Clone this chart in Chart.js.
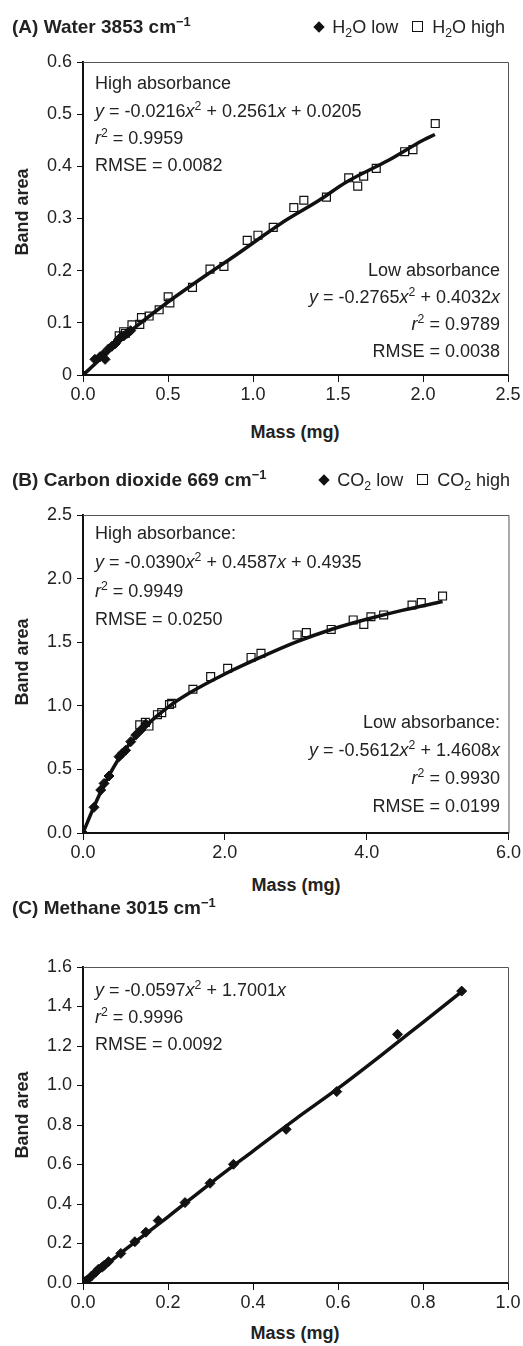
<!DOCTYPE html>
<html><head><meta charset="utf-8">
<script src="https://cdn.jsdelivr.net/npm/chart.js@4.4.0/dist/chart.umd.min.js"></script>
<style>
body{margin:0;background:#fff;}
#wrap{position:relative;width:523px;height:1346px;font-family:'Liberation Sans',Arial,sans-serif;color:#222;overflow:hidden;}
canvas{position:absolute;left:0;}
.t{position:absolute;white-space:nowrap;font-size:18px;line-height:20px;transform:translateY(-50%);}
.r{text-align:right;}
.ttl{font-size:19px;font-weight:bold;}
sup,sub{font-size:0.68em;line-height:0;position:relative;vertical-align:baseline;}
sup{top:-0.55em;}
sub{top:0.3em;}
.rot{position:absolute;font-weight:bold;font-size:18px;white-space:nowrap;transform:translate(-50%,-50%) rotate(-90deg);}
.ctr{position:absolute;font-weight:bold;font-size:18px;white-space:nowrap;transform:translate(-50%,-50%);}
.dia{display:inline-block;width:8px;height:8px;background:#111;transform:rotate(45deg);margin-right:9px;vertical-align:2px;}
.sq{display:inline-block;width:9px;height:9px;border:1px solid #111;margin-right:9px;margin-left:14px;vertical-align:1px;}
</style></head>
<body>
<div id="wrap">
<canvas id="cA" width="523" height="410" style="top:0px"></canvas>
<canvas id="cB" width="523" height="418" style="top:450px"></canvas>
<canvas id="cC" width="523" height="418" style="top:900px"></canvas>

<div class="t ttl" style="left:12px;top:27px">(A) Water 3853 cm<sup>−1</sup></div>
<div class="t" style="right:18px;top:27px"><span class="dia"></span>H<sub>2</sub>O low<span class="sq"></span>H<sub>2</sub>O high</div>
<div class="t" style="left:95px;top:83px">High absorbance</div>
<div class="t" style="left:95px;top:111px"><i>y</i> = -0.0216<i>x</i><sup>2</sup> + 0.2561<i>x</i> + 0.0205</div>
<div class="t" style="left:95px;top:138px"><i>r</i><sup>2</sup> = 0.9959</div>
<div class="t" style="left:95px;top:165px">RMSE = 0.0082</div>
<div class="t r" style="right:23px;top:270px">Low absorbance</div>
<div class="t r" style="right:23px;top:297px"><i>y</i> = -0.2765<i>x</i><sup>2</sup> + 0.4032<i>x</i></div>
<div class="t r" style="right:23px;top:324px"><i>r</i><sup>2</sup> = 0.9789</div>
<div class="t r" style="right:23px;top:351px">RMSE = 0.0038</div>
<div class="rot" style="left:22px;top:212px">Band area</div>
<div class="ctr" style="left:295px;top:432px">Mass (mg)</div>

<div class="t ttl" style="left:12px;top:480px">(B) Carbon dioxide 669 cm<sup>−1</sup></div>
<div class="t" style="right:13px;top:480px"><span class="dia"></span>CO<sub>2</sub> low<span class="sq"></span>CO<sub>2</sub> high</div>
<div class="t" style="left:95px;top:533px">High absorbance:</div>
<div class="t" style="left:95px;top:562px"><i>y</i> = -0.0390<i>x</i><sup>2</sup> + 0.4587<i>x</i> + 0.4935</div>
<div class="t" style="left:95px;top:591px"><i>r</i><sup>2</sup> = 0.9949</div>
<div class="t" style="left:95px;top:619px">RMSE = 0.0250</div>
<div class="t r" style="right:23px;top:722px">Low absorbance:</div>
<div class="t r" style="right:23px;top:750px"><i>y</i> = -0.5612<i>x</i><sup>2</sup> + 1.4608<i>x</i></div>
<div class="t r" style="right:23px;top:778px"><i>r</i><sup>2</sup> = 0.9930</div>
<div class="t r" style="right:23px;top:806px">RMSE = 0.0199</div>
<div class="rot" style="left:22px;top:662px">Band area</div>
<div class="ctr" style="left:296px;top:885px">Mass (mg)</div>

<div class="t ttl" style="left:12px;top:908px">(C) Methane 3015 cm<sup>−1</sup></div>
<div class="t" style="left:95px;top:990px"><i>y</i> = -0.0597<i>x</i><sup>2</sup> + 1.7001<i>x</i></div>
<div class="t" style="left:95px;top:1017px"><i>r</i><sup>2</sup> = 0.9996</div>
<div class="t" style="left:95px;top:1044px">RMSE = 0.0092</div>
<div class="rot" style="left:22px;top:1115px">Band area</div>
<div class="ctr" style="left:295px;top:1333px">Mass (mg)</div>
</div>

<script>
// ---------- Panel A: Water ----------
const aXTicks = [0, 0.5, 1.0, 1.5, 2.0, 2.5];
const aXTickLabels = ['0.0', '0.5', '1.0', '1.5', '2.0', '2.5'];
const aYTicks = [0, 0.1, 0.2, 0.3, 0.4, 0.5, 0.6];
const aYTickLabels = ['0', '0.1', '0.2', '0.3', '0.4', '0.5', '0.6'];
const aLowX = [0, 0.07, 0.10, 0.12, 0.13, 0.15, 0.17, 0.19, 0.21, 0.22, 0.24, 0.26, 0.28];
const aLowY = [0, 0.030, 0.035, 0.040, 0.030, 0.050, 0.055, 0.060, 0.068, 0.072, 0.075, 0.080, 0.085];
const aHighX = [0.213, 0.239, 0.250, 0.288, 0.334, 0.344, 0.389, 0.448, 0.501, 0.511, 0.644, 0.747, 0.829, 0.966, 1.029, 1.119, 1.240, 1.299, 1.432, 1.563, 1.616, 1.651, 1.725, 1.892, 1.941, 2.072];
const aHighY = [0.075, 0.083, 0.080, 0.096, 0.097, 0.110, 0.113, 0.125, 0.150, 0.138, 0.168, 0.203, 0.208, 0.258, 0.268, 0.283, 0.321, 0.335, 0.341, 0.378, 0.362, 0.381, 0.396, 0.428, 0.432, 0.482];
const aCurveX = [0, 0.1, 0.2, 0.3, 0.5, 0.7, 0.9, 1.1, 1.2, 1.38, 1.55, 1.8, 2.0, 2.07];
const aCurveY = [0, 0.030, 0.063, 0.090, 0.140, 0.186, 0.230, 0.276, 0.298, 0.333, 0.370, 0.412, 0.450, 0.461];

// ---------- Panel B: Carbon dioxide ----------
const bXTicks = [0, 2, 4, 6];
const bXTickLabels = ['0.0', '2.0', '4.0', '6.0'];
const bYTicks = [0, 0.5, 1.0, 1.5, 2.0, 2.5];
const bYTickLabels = ['0.0', '0.5', '1.0', '1.5', '2.0', '2.5'];
const bLowX = [0, 0.155, 0.25, 0.297, 0.367, 0.508, 0.555, 0.60, 0.673, 0.744, 0.815, 0.885];
const bLowY = [0, 0.202, 0.338, 0.390, 0.448, 0.600, 0.627, 0.650, 0.718, 0.770, 0.810, 0.857];
const bHighX = [0.80, 0.88, 0.93, 1.05, 1.11, 1.22, 1.25, 1.55, 1.80, 2.04, 2.37, 2.51, 3.02, 3.15, 3.50, 3.81, 3.96, 4.06, 4.24, 4.64, 4.77, 5.07];
const bHighY = [0.850, 0.870, 0.841, 0.930, 0.946, 1.010, 1.020, 1.130, 1.229, 1.295, 1.380, 1.413, 1.557, 1.575, 1.600, 1.675, 1.640, 1.700, 1.714, 1.792, 1.811, 1.863];
const bCurveX = [0, 0.15, 0.3, 0.5, 0.7, 0.9, 1.2, 1.5, 2.0, 2.5, 3.0, 3.5, 4.0, 4.5, 5.07];
const bCurveY = [0, 0.20, 0.38, 0.58, 0.73, 0.85, 0.99, 1.10, 1.25, 1.38, 1.50, 1.60, 1.68, 1.75, 1.82];

// ---------- Panel C: Methane ----------
const cXTicks = [0, 0.2, 0.4, 0.6, 0.8, 1.0];
const cXTickLabels = ['0.0', '0.2', '0.4', '0.6', '0.8', '1.0'];
const cYTicks = [0, 0.2, 0.4, 0.6, 0.8, 1.0, 1.2, 1.4, 1.6];
const cYTickLabels = ['0.0', '0.2', '0.4', '0.6', '0.8', '1.0', '1.2', '1.4', '1.6'];
const cLowX = [0, 0.005, 0.01, 0.02, 0.03, 0.036, 0.045, 0.05, 0.06, 0.089, 0.122, 0.148, 0.177, 0.24, 0.299, 0.354, 0.478, 0.597, 0.740, 0.891];
const cLowY = [0, 0.008, 0.015, 0.035, 0.055, 0.069, 0.080, 0.090, 0.108, 0.150, 0.209, 0.257, 0.316, 0.407, 0.505, 0.601, 0.778, 0.969, 1.259, 1.478];
const cCurveX = [0, 0.1, 0.2, 0.3, 0.4, 0.5, 0.6, 0.7, 0.8, 0.891];
const cCurveY = [0, 0.170, 0.335, 0.505, 0.668, 0.830, 0.985, 1.150, 1.320, 1.475];

const FONT = "'Liberation Sans', Arial, sans-serif";
const INK = '#111';
const pts = (xs, ys) => xs.map((x, i) => ({x, y: ys[i]}));

const framePlugin = {
  id: 'frame',
  afterDraw(chart) {
    const {ctx, chartArea: a} = chart;
    ctx.save();
    ctx.strokeStyle = '#555';
    ctx.lineWidth = 1;
    ctx.beginPath();
    ctx.moveTo(a.left, a.top + 0.5);
    ctx.lineTo(a.right + 0.5, a.top + 0.5);
    ctx.lineTo(a.right + 0.5, a.bottom);
    ctx.stroke();
    ctx.restore();
  }
};

function axis(min, max, tickVals, tickLabels, isX) {
  return {
    type: 'linear', min, max,
    afterBuildTicks: s => { s.ticks = tickVals.map(v => ({value: v})); },
    afterFit: s => { if (isX) s.height = 35; else s.width = 83; },
    ticks: {
      callback: (v, i) => tickLabels[i],
      font: {family: FONT, size: 18}, color: '#222',
      padding: isX ? 2 : 5, maxRotation: 0, autoSkip: false
    },
    grid: {drawOnChartArea: false, drawTicks: true, tickLength: isX ? 7 : 6, tickColor: INK, tickWidth: 1},
    border: {display: true, color: INK, width: 2}
  };
}

function makeChart(id, c) {
  const ds = [
    {type: 'line', data: pts(c.curveX, c.curveY), borderColor: INK, borderWidth: 3.5,
     pointRadius: 0, cubicInterpolationMode: 'monotone', fill: false, order: 2},
    {data: pts(c.lowX, c.lowY), pointStyle: 'rectRot', pointRadius: 5,
     backgroundColor: INK, borderColor: INK, borderWidth: 1, order: 1}
  ];
  if (c.highX) ds.push({data: pts(c.highX, c.highY), pointStyle: 'rect', pointRadius: 5.6,
     backgroundColor: 'rgba(0,0,0,0)', borderColor: INK, borderWidth: 1.2, order: 1});
  return new Chart(document.getElementById(id), {
    type: 'scatter',
    data: {datasets: ds},
    options: {
      responsive: false, animation: false,
      layout: {padding: {top: c.padTop, right: c.padRight, left: 0, bottom: 0}},
      plugins: {legend: {display: false}, tooltip: {enabled: false}, title: {display: false}},
      scales: {
        x: axis(c.xMin, c.xMax, c.xTicks, c.xTickLabels, true),
        y: axis(c.yMin, c.yMax, c.yTicks, c.yTickLabels, false)
      }
    },
    plugins: [framePlugin]
  });
}

makeChart('cA', {padTop: 62, padRight: 15, xMin: 0, xMax: 2.5, yMin: 0, yMax: 0.6,
  xTicks: aXTicks, xTickLabels: aXTickLabels, yTicks: aYTicks, yTickLabels: aYTickLabels,
  lowX: aLowX, lowY: aLowY, highX: aHighX, highY: aHighY, curveX: aCurveX, curveY: aCurveY});
makeChart('cB', {padTop: 65, padRight: 14, xMin: 0, xMax: 6, yMin: 0, yMax: 2.5,
  xTicks: bXTicks, xTickLabels: bXTickLabels, yTicks: bYTicks, yTickLabels: bYTickLabels,
  lowX: bLowX, lowY: bLowY, highX: bHighX, highY: bHighY, curveX: bCurveX, curveY: bCurveY});
makeChart('cC', {padTop: 67, padRight: 15, xMin: 0, xMax: 1.0, yMin: 0, yMax: 1.6,
  xTicks: cXTicks, xTickLabels: cXTickLabels, yTicks: cYTicks, yTickLabels: cYTickLabels,
  lowX: cLowX, lowY: cLowY, curveX: cCurveX, curveY: cCurveY});
</script>
</body></html>
